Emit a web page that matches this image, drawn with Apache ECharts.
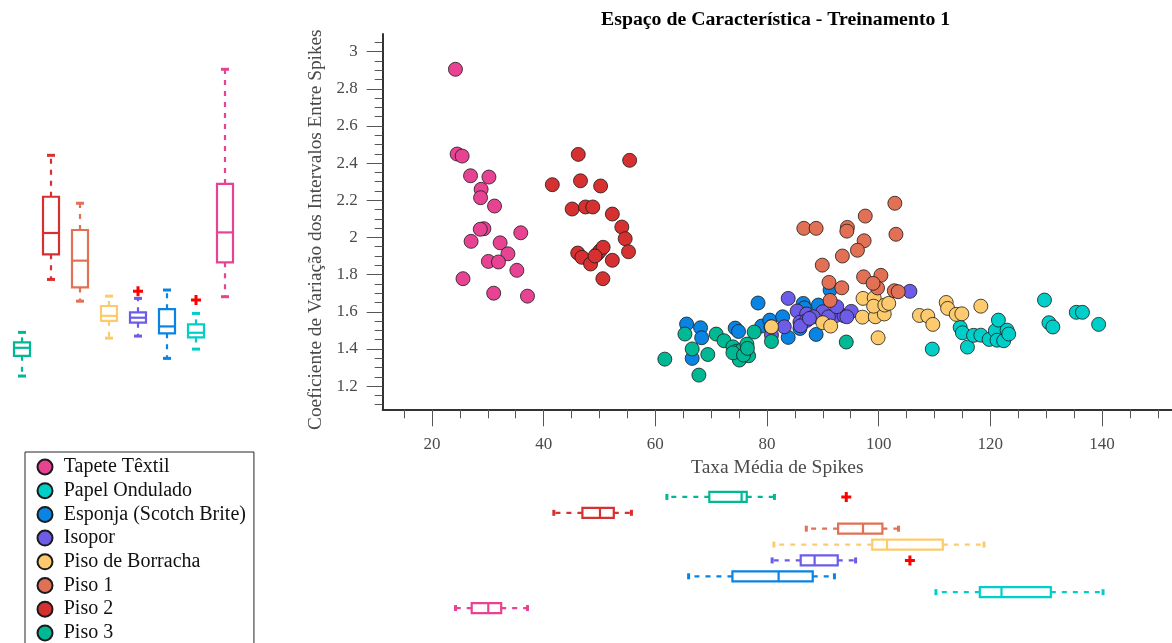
<!DOCTYPE html>
<html>
<head>
<meta charset="utf-8">
<script src="https://cdn.jsdelivr.net/npm/echarts@6/dist/echarts.min.js"></script>
<style>
  html, body { margin: 0; padding: 0; background: #ffffff; }
  #chart { width: 1172px; height: 643px; }
</style>
</head>
<body>
<div id="chart"></div>
<script>
// Classes (legend order) and their colours
const classes = ['Tapete Têxtil', 'Papel Ondulado', 'Esponja (Scotch Brite)', 'Isopor',
                 'Piso de Borracha', 'Piso 1', 'Piso 2', 'Piso 3'];
const colors = ['#E84393', '#00CEC9', '#0984E3', '#6C5CE7', '#FDCB6E', '#E17055', '#D63031', '#00B894'];

// Samples: [taxa média de spikes, coeficiente de variação]
const tapeteTextil = [[24.2,2.905],[24.5,2.449],[25.4,2.438],[26.9,2.332],[30.2,2.325],[28.8,2.259],[28.7,2.214],
  [31.2,2.169],[29.3,2.047],[28.65,2.044],[35.9,2.025],[27.0,1.979],[32.2,1.971],[33.6,1.912],[30.1,1.871],
  [31.9,1.868],[35.2,1.823],[25.55,1.778],[31.05,1.70],[37.1,1.684]];
const papelOndulado = [[109.6,1.399],[114.6,1.516],[115.0,1.487],[115.9,1.41],[117.0,1.473],[118.3,1.474],
  [119.8,1.451],[120.9,1.498],[121.45,1.555],[121.2,1.447],[122.4,1.444],[123.0,1.501],[123.3,1.48],
  [129.7,1.663],[130.5,1.541],[131.2,1.518],[135.4,1.597],[136.5,1.597],[139.4,1.532]];
const esponja = [[78.4,1.647],[65.6,1.534],[68.1,1.514],[68.3,1.46],[66.6,1.349],[74.3,1.512],[74.9,1.494],
  [79.05,1.523],[80.5,1.555],[82.8,1.573],[83.8,1.462],[86.5,1.645],[86.7,1.621],[89.2,1.636],[85.9,1.51],
  [88.8,1.478],[91.3,1.717],[80.7,1.519]];
const isopor = [[83.8,1.672],[105.6,1.71],[85.4,1.604],[87.1,1.588],[90.0,1.60],[92.2,1.578],[93.8,1.578],
  [95.1,1.602],[85.9,1.544],[87.1,1.553],[88.3,1.573],[91.0,1.573],[83.1,1.519],[86.0,1.524],[80.8,1.474],
  [92.5,1.627],[94.3,1.573],[87.6,1.564]];
const pisoBorracha = [[80.8,1.519],[90.0,1.541],[91.4,1.523],[97.1,1.571],[99.4,1.573],[101.0,1.588],
  [97.2,1.672],[99.2,1.675],[99.1,1.63],[101.1,1.636],[101.8,1.645],[99.9,1.46],[107.3,1.58],[108.8,1.577],
  [109.7,1.532],[112.1,1.65],[112.35,1.618],[113.9,1.586],[114.9,1.589],[118.3,1.63]];
const piso1 = [[102.9,2.184],[97.6,2.115],[86.6,2.049],[88.8,2.049],[94.4,2.054],[94.3,2.034],[103.1,2.017],
  [97.4,1.982],[96.2,1.931],[93.5,1.90],[89.9,1.851],[97.3,1.788],[100.4,1.796],[91.1,1.758],[93.4,1.729],
  [99.8,1.728],[102.8,1.713],[91.3,1.661],[99.0,1.753],[103.5,1.708]];
const piso2 = [[46.2,2.447],[55.4,2.415],[41.55,2.284],[46.6,2.305],[50.2,2.277],[45.1,2.153],[47.5,2.164],
  [48.8,2.164],[52.3,2.126],[54.0,2.056],[54.6,1.993],[55.2,1.923],[46.1,1.916],[46.85,1.893],[48.4,1.857],
  [49.6,1.911],[50.1,1.928],[50.65,1.947],[52.3,1.877],[50.6,1.778],[49.2,1.90]];
const piso3 = [[61.7,1.345],[65.3,1.48],[66.6,1.40],[67.8,1.259],[69.4,1.37],[70.9,1.48],[72.3,1.444],
  [73.9,1.411],[74.6,1.388],[75.5,1.394],[76.4,1.426],[75.05,1.34],[76.7,1.363],[77.7,1.491],[80.8,1.44],
  [94.2,1.437],[73.9,1.379],[75.8,1.367],[76.5,1.403]];
const samples = [tapeteTextil, papelOndulado, esponja, isopor, pisoBorracha, piso1, piso2, piso3];

// Box statistics per class: [whisker low, Q1, median, Q3, whisker high]
const boxY = [[1.681,1.866,2.027,2.288,2.905],[1.399,1.462,1.487,1.532,1.591],[1.349,1.484,1.521,1.614,1.717],
  [1.469,1.541,1.568,1.597,1.672],[1.458,1.551,1.578,1.631,1.684],[1.657,1.731,1.875,2.040,2.184],
  [1.774,1.909,2.024,2.219,2.442],[1.254,1.363,1.406,1.435,1.489]];
const boxX = [[24.21,27.11,30.08,32.39,37.1],[110.26,118.12,122.0,130.84,140.19],[65.96,73.81,82.08,88.19,92.08],
  [80.92,86.04,88.53,92.67,95.87],[81.24,98.85,101.5,111.49,118.87],[87.04,92.74,97.2,100.67,103.56],
  [41.82,46.94,50.09,52.56,55.72],[62.07,69.67,75.45,76.37,81.33]];
// Outliers: [class index, value]
const outliersY = [[3,1.71],[1,1.663]];
const outliersX = [[7,94.2],[3,105.6]];

// Axis ticks
const xTicks = [20,40,60,80,100,120,140];
const xMinorTicks = [15,25,30,35,45,50,55,65,70,75,85,90,95,105,110,115,125,130,135,145,150];
const yTicks = [1.2,1.4,1.6,1.8,2,2.2,2.4,2.6,2.8,3];
const yMinorTicks = [1.1,1.15,1.25,1.3,1.35,1.45,1.5,1.55,1.65,1.7,1.75,1.85,1.9,1.95,2.05,2.1,2.15,2.25,
  2.3,2.35,2.45,2.5,2.55,2.65,2.7,2.75,2.85,2.9,2.95,3.05];
const xRange = [11.17, 152.54];
const yRange = [1.075, 3.095];

const serif = "'Liberation Serif', 'Times New Roman', serif";
const labelGrey = '#4a4a4a';
const plusSymbol = 'path://M3.5 0h3v3.5h3.5v3h-3.5v3.5h-3v-3.5h-3.5v-3h3.5z';

function whiskerStyle(col) { return { stroke: col, lineWidth: 2.2, lineDash: [5, 6] }; }

// Vertical box (left margin panel)
function verticalBox(params, api) {
  const i = api.value(0), col = colors[i];
  const x = api.coord([i, api.value(3)])[0];
  const y = k => api.coord([i, api.value(k)])[1];
  const lo = y(1), q1 = y(2), md = y(3), q3 = y(4), hi = y(5);
  const bw = 8, cw = 4;
  return { type: 'group', children: [
    { type: 'line', shape: { x1: x, y1: q3, x2: x, y2: hi }, style: whiskerStyle(col) },
    { type: 'line', shape: { x1: x, y1: q1, x2: x, y2: lo }, style: whiskerStyle(col) },
    { type: 'line', shape: { x1: x - cw, y1: hi, x2: x + cw, y2: hi }, style: { stroke: col, lineWidth: 3 } },
    { type: 'line', shape: { x1: x - cw, y1: lo, x2: x + cw, y2: lo }, style: { stroke: col, lineWidth: 3 } },
    { type: 'rect', shape: { x: x - bw, y: q3, width: 2 * bw, height: q1 - q3 },
      style: { fill: '#ffffff', stroke: col, lineWidth: 2.2 } },
    { type: 'line', shape: { x1: x - bw, y1: md, x2: x + bw, y2: md }, style: { stroke: col, lineWidth: 2.2 } }
  ]};
}

// Horizontal box (bottom margin panel)
function horizontalBox(params, api) {
  const i = api.value(0), col = colors[i];
  const y = api.coord([api.value(3), i])[1];
  const x = k => api.coord([api.value(k), i])[0];
  const lo = x(1), q1 = x(2), md = x(3), q3 = x(4), hi = x(5);
  const bh = 5, ch = 3;
  return { type: 'group', children: [
    { type: 'line', shape: { x1: q3, y1: y, x2: hi, y2: y }, style: whiskerStyle(col) },
    { type: 'line', shape: { x1: q1, y1: y, x2: lo, y2: y }, style: whiskerStyle(col) },
    { type: 'line', shape: { x1: hi, y1: y - ch, x2: hi, y2: y + ch }, style: { stroke: col, lineWidth: 3 } },
    { type: 'line', shape: { x1: lo, y1: y - ch, x2: lo, y2: y + ch }, style: { stroke: col, lineWidth: 3 } },
    { type: 'rect', shape: { x: q1, y: y - bh, width: q3 - q1, height: 2 * bh },
      style: { fill: '#ffffff', stroke: col, lineWidth: 2.2 } },
    { type: 'line', shape: { x1: md, y1: y - bh, x2: md, y2: y + bh }, style: { stroke: col, lineWidth: 2.2 } }
  ]};
}

const chart = echarts.init(document.getElementById('chart'), null, { renderer: 'canvas' });

const scatterSeries = classes.map((name, i) => ({
  name: name,
  type: 'scatter',
  xAxisIndex: 0, yAxisIndex: 0,
  data: samples[i],
  symbol: 'circle',
  symbolSize: 14,
  itemStyle: { color: colors[i], opacity: 1, borderColor: '#1a1a1a', borderWidth: 0.8 },
  emphasis: { disabled: true }
}));

const option = {
  animation: false,
  backgroundColor: '#ffffff',
  title: {
    text: 'Espaço de Característica - Treinamento 1',
    left: 601, top: 10, padding: 0,
    textStyle: { fontFamily: serif, fontSize: 19.8, fontWeight: 'bold', color: '#000000' }
  },
  legend: {
    data: classes,
    orient: 'vertical',
    left: 25, top: 452, height: 260,
    icon: 'circle',
    itemWidth: 27.5, itemHeight: 15, itemGap: 3.7,
    padding: [5, 8, 40, 11.5],
    borderColor: '#262626', borderWidth: 1, borderRadius: 0,
    backgroundColor: '#ffffff',
    textStyle: { fontFamily: serif, fontSize: 20, color: '#111111', padding: [0, 0, 0, 0] }
  },
  grid: [
    { left: 382.7, right: 0, top: 34, bottom: 233.7, outerBoundsMode: 'none' },
    { left: 7.5, width: 232, top: 34, bottom: 233.7, outerBoundsMode: 'none' },
    { left: 382.7, right: 0, top: 489, height: 127, outerBoundsMode: 'none' }
  ],
  xAxis: [
    { type: 'value', gridIndex: 0, min: xRange[0], max: xRange[1], position: 'bottom',
      name: 'Taxa Média de Spikes', nameLocation: 'middle', nameGap: 49,
      nameTextStyle: { fontFamily: serif, fontSize: 19.5, color: labelGrey },
      axisLine: { show: true, lineStyle: { color: '#333333', width: 2 } },
      axisTick: { show: true, length: 17, customValues: xTicks, lineStyle: { color: '#555555', width: 1 } },
      axisLabel: { show: true, customValues: xTicks, margin: 27, fontFamily: serif, fontSize: 17, color: labelGrey },
      splitLine: { show: false } },
    { type: 'value', gridIndex: 0, min: xRange[0], max: xRange[1], position: 'bottom',
      axisLine: { show: false },
      axisTick: { show: true, length: 9, customValues: xMinorTicks, lineStyle: { color: '#555555', width: 1 } },
      axisLabel: { show: false }, splitLine: { show: false } },
    { type: 'category', gridIndex: 1, data: classes, inverse: true, show: false },
    { type: 'value', gridIndex: 2, min: xRange[0], max: xRange[1], show: false }
  ],
  yAxis: [
    { type: 'value', gridIndex: 0, min: yRange[0], max: yRange[1], position: 'left',
      name: 'Coeficiente de Variação dos Intervalos Entre Spikes', nameLocation: 'middle', nameGap: 53.5,
      nameTextStyle: { fontFamily: serif, fontSize: 19.3, color: labelGrey, padding: [0, 16, 0, 0] },
      axisLine: { show: true, lineStyle: { color: '#333333', width: 2 } },
      axisTick: { show: true, length: 16, customValues: yTicks, lineStyle: { color: '#555555', width: 1 } },
      axisLabel: { show: true, customValues: yTicks, margin: 25, fontFamily: serif, fontSize: 17, color: labelGrey },
      splitLine: { show: false } },
    { type: 'value', gridIndex: 0, min: yRange[0], max: yRange[1], position: 'left',
      axisLine: { show: false },
      axisTick: { show: true, length: 8, customValues: yMinorTicks, lineStyle: { color: '#555555', width: 1 } },
      axisLabel: { show: false }, splitLine: { show: false } },
    { type: 'value', gridIndex: 1, min: yRange[0], max: yRange[1], show: false },
    { type: 'category', gridIndex: 2, data: classes, show: false }
  ],
  series: scatterSeries.concat([
    { type: 'custom', name: 'boxY', xAxisIndex: 2, yAxisIndex: 2,
      data: boxY.map((b, i) => [i].concat(b)),
      encode: { x: 0, y: [1, 2, 3, 4, 5] },
      renderItem: verticalBox, silent: true },
    { type: 'custom', name: 'boxX', xAxisIndex: 3, yAxisIndex: 3,
      data: boxX.map((b, i) => [i].concat(b)),
      encode: { y: 0, x: [1, 2, 3, 4, 5] },
      renderItem: horizontalBox, silent: true },
    { type: 'scatter', name: 'outY', xAxisIndex: 2, yAxisIndex: 2,
      data: outliersY, symbol: plusSymbol, symbolSize: 10,
      itemStyle: { color: '#ff0000', opacity: 1 }, silent: true },
    { type: 'scatter', name: 'outX', xAxisIndex: 3, yAxisIndex: 3,
      data: outliersX.map(o => [o[1], o[0]]), symbol: plusSymbol, symbolSize: 10,
      itemStyle: { color: '#ff0000', opacity: 1 }, silent: true }
  ])
};

chart.setOption(option);
</script>
</body>
</html>
